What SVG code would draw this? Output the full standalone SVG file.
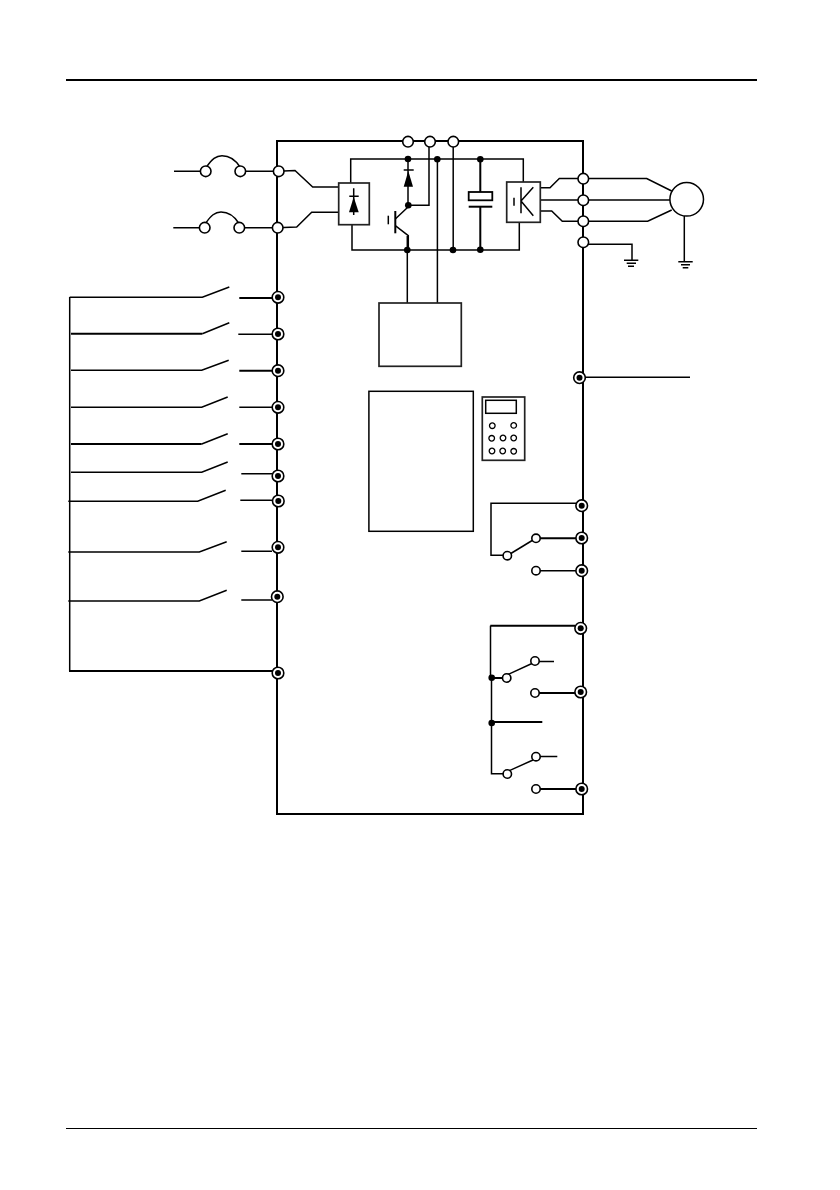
<svg xmlns="http://www.w3.org/2000/svg" width="840" height="1190" viewBox="0 0 840 1190">
<style>
.w{fill:none;stroke:#000;stroke-width:1.5}
.t{fill:none;stroke:#000;stroke-width:2}
.g{fill:none;stroke:#222;stroke-width:1.7}
.f{fill:#000;stroke:none}
</style>
<defs>
<g id="ring"><circle r="5.8" fill="#fff" stroke="#000" stroke-width="1.6"/><circle r="3" fill="#000"/></g>
<circle id="open" r="5.3" fill="#fff" stroke="#000" stroke-width="1.6"/>
<circle id="small" r="4.2" fill="#fff" stroke="#000" stroke-width="1.6"/>
<circle id="dot" r="3.3" fill="#000"/>
<circle id="key" r="2.8" fill="#fff" stroke="#000" stroke-width="1.3"/>
</defs>
<rect width="840" height="1190" fill="#fff"/>
<g id="page-rules">
<line x1="66" y1="80" x2="757" y2="80" stroke="#000" stroke-width="2"/>
<line x1="66" y1="1128.5" x2="757" y2="1128.5" stroke="#000" stroke-width="1"/>
</g>
<g id="connectors">
<path class="t" d="M408 141H277V814H583V141H408"/>
<!-- mains -->
<path class="w" d="M174 171.3H206M240.3 171.3H278L295 170.5L312.7 187H339"/>
<path class="w" d="M173.3 227.7H205M239.3 227.7H277L296.7 227L311.7 212.3H339"/>
<path class="w" d="M206.5 167C212 159 216 155.7 222 155.7C229 155.7 235 159 240 167"/>
<path class="w" d="M205.5 223.5C211 215.5 215 212 221 212C228 212 234 215.5 239 223.5"/>
<!-- DC bus -->
<path class="w" d="M350.7 183V159H523.3V182"/>
<path class="w" d="M352 225V250H519.3V222"/>
<path class="w" d="M408 159V205.3"/>
<path class="w" d="M408.3 205.3H429V142"/>
<path class="w" d="M453.2 142V250"/>
<path class="w" d="M437.4 159V303"/>
<path class="w" d="M407.3 236V303"/>
<path class="t" d="M480.3 159V192M480.3 206.7V250"/>
<!-- outputs -->
<path class="w" d="M540.3 187.7H550L559.3 178.5H646.7L671.7 191"/>
<path class="w" d="M540.3 200H670"/>
<path class="w" d="M540.3 211H551.7L562.3 221.3H647.7L671.7 210"/>
<path class="w" d="M583 242.5L589 244.3H632V260"/>
<path class="w" d="M684.3 216V261"/>
<path class="w" d="M624 260.3H638.3M626.7 263.3H636M628 266.3H634"/>
<path class="w" d="M678.3 261.7H692.7M681 264.7H690M682.7 267.7H688.3"/>
<!-- digital inputs -->
<path class="w" d="M69.7 297V671"/>
<path class="t" d="M69 671H278"/>
<path class="w" d="M69.7 297.3H202.3L229.3 287"/><path class="t" d="M239.3 298H272"/>
<path class="t" d="M71 333.7H202.3"/><path class="w" d="M202.3 333.7L229.3 322.7M238.3 334.3H272"/>
<path class="w" d="M71 370.3H201.7L228.7 360.3"/><path class="t" d="M239.3 370.7H272"/>
<path class="w" d="M71 407.3H201.7L227.7 397M239.3 407.3H272"/>
<path class="t" d="M71 444H201.7"/><path class="w" d="M201.7 444L227.7 433.7"/><path class="t" d="M239.3 444H272"/>
<path class="w" d="M71 472.3H201.7L227.7 462M241.3 473.7H272"/>
<path class="w" d="M68.3 501.3H197.7L225.7 490.3M240.3 500.3H272"/>
<path class="w" d="M68.3 552H199.3L226.7 541.7M241.3 551.3H272"/>
<path class="w" d="M68.3 601H199.3L226.7 590.3M241.3 600H272"/>
<!-- analog output -->
<path class="w" d="M585 377.3H690"/>
<!-- relay 1 -->
<path class="w" d="M576 503.3H491V555.3H507"/>
<path class="w" d="M510 554L533 540"/>
<path class="t" d="M540 538.3H576"/>
<path class="w" d="M540 570.7H576"/>
<!-- relay 2 -->
<path class="t" d="M490.3 625.7H575"/>
<path class="w" d="M490.5 625.7V677"/>
<path class="w" d="M491.5 677.7V723"/>
<path class="w" d="M491.5 723V773.7H507"/>
<path class="t" d="M491.7 678H507"/>
<path class="t" d="M491.7 722H542.3"/>
<path class="w" d="M507 675L533 663M539 661.5H554"/>
<path class="w" d="M507 771.7L533 760M540 756.5H557.3"/>
<path class="t" d="M539 693H575"/>
<path class="t" d="M540 789H576"/>
</g>
<g id="fuse-r"><use href="#open" x="205.7" y="171.3"/><use href="#open" x="240.3" y="171.3"/></g>
<g id="fuse-s"><use href="#open" x="204.7" y="227.7"/><use href="#open" x="239.3" y="227.7"/></g>
<g id="power-terminals">
<use href="#open" x="278.7" y="171.3"/><use href="#open" x="277.7" y="227.7"/>
<use href="#open" x="408" y="141.7"/><use href="#open" x="430" y="141.7"/><use href="#open" x="453.3" y="141.7"/>
<use href="#open" x="583.3" y="178.7"/><use href="#open" x="583.3" y="200.3"/><use href="#open" x="583.3" y="221.3"/><use href="#open" x="583.3" y="242.3"/>
</g>
<g id="rectifier">
<rect class="g" x="338.7" y="183" width="30.6" height="41.7" fill="#fff" style="fill:#fff"/>
<path class="w" d="M353.7 188.3V215M349.3 196.3H358.7"/>
<path class="f" d="M353.7 197L358.7 212.3H349Z"/>
</g>
<g id="brake-diode">
<path class="w" d="M403.7 170H413.7"/>
<path class="f" d="M408.3 171L413 186.7H403.7Z"/>
</g>
<g id="brake-transistor">
<path class="t" d="M395.3 211V233.3"/>
<path class="w" d="M388.3 215.7V224.3"/>
<path class="w" d="M395.3 219L408.3 206.7M395.3 225.7L408.3 235.7V250"/>
</g>
<g id="junctions">
<use href="#dot" x="408" y="159"/><use href="#dot" x="437.3" y="159.3"/><use href="#dot" x="480.3" y="159.3"/>
<use href="#dot" x="408.3" y="205.3"/><use href="#dot" x="407.3" y="250"/><use href="#dot" x="453" y="250"/><use href="#dot" x="480.3" y="249.7"/>
<use href="#dot" x="491.7" y="677.7"/><use href="#dot" x="491.7" y="723"/>
</g>
<g id="capacitor">
<rect x="468.7" y="192" width="23.6" height="8.3" fill="#fff" stroke="#000" stroke-width="1.8"/>
<path class="t" d="M468.7 206.7H492.3"/>
</g>
<g id="inverter">
<rect class="g" x="506.7" y="182" width="33.6" height="40.3" style="fill:#fff"/>
<path class="w" d="M514 197.7V205.7M521 187.3V213.3M533.3 187.3L521 201L533.3 215.7"/>
</g>
<g id="motor"><circle cx="686.7" cy="199.3" r="16.8" fill="#fff" stroke="#000" stroke-width="1.5"/></g>
<g id="power-supply"><rect class="g" x="379" y="303" width="82.3" height="63.3" style="fill:#fff"/></g>
<g id="control-board"><rect x="368.9" y="391.3" width="104.4" height="140" fill="#fff" stroke="#000" stroke-width="1.5"/></g>
<g id="keypad">
<rect class="g" x="482.3" y="397" width="42.4" height="63.3" style="fill:#fff"/>
<rect x="485.7" y="400.3" width="30.6" height="13" fill="#fff" stroke="#000" stroke-width="1.5"/>
<use href="#key" x="492.3" y="425.7"/><use href="#key" x="513.7" y="425.4"/>
<use href="#key" x="491.7" y="438.3"/><use href="#key" x="503" y="438"/><use href="#key" x="513.7" y="438"/>
<use href="#key" x="492" y="451"/><use href="#key" x="502.7" y="451"/><use href="#key" x="513.7" y="451.3"/>
</g>
<g id="input-terminals">
<use href="#ring" x="278" y="297.3"/><use href="#ring" x="278" y="334"/><use href="#ring" x="278" y="370.7"/><use href="#ring" x="278" y="407.3"/><use href="#ring" x="278" y="444"/><use href="#ring" x="278" y="476"/><use href="#ring" x="278.3" y="501"/><use href="#ring" x="278" y="547.3"/><use href="#ring" x="277.3" y="596.7"/><use href="#ring" x="278" y="673"/>
</g>
<g id="output-terminals">
<use href="#ring" x="579.5" y="377.7"/>
<use href="#ring" x="581.7" y="505.7"/><use href="#ring" x="581.7" y="538"/><use href="#ring" x="581.7" y="570.7"/>
<use href="#ring" x="580.7" y="628.3"/><use href="#ring" x="580.7" y="692"/><use href="#ring" x="581.7" y="789"/>
</g>
<g id="relay-1-contacts">
<use href="#small" x="507.3" y="555.7"/><use href="#small" x="536" y="538.3"/><use href="#small" x="536" y="570.7"/>
</g>
<g id="relay-2-contacts">
<use href="#small" x="506.7" y="678"/><use href="#small" x="535" y="661"/><use href="#small" x="535" y="693"/>
<use href="#small" x="507.3" y="774"/><use href="#small" x="536" y="756.7"/><use href="#small" x="536" y="789"/>
</g>
</svg>
